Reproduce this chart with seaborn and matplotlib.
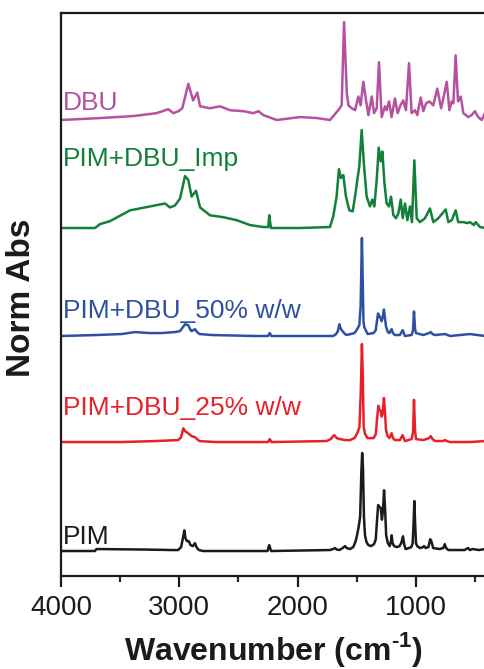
import matplotlib
matplotlib.use('Agg')
import matplotlib.pyplot as plt
import pandas as pd
import seaborn as sns
from matplotlib.ticker import MultipleLocator

# wavenumber (cm-1) and normalised absorbance
pim_wn = [4000, 3713, 3700, 3300, 3065, 3010, 2985, 2965, 2958, 2948, 2935, 2920, 2905, 2885,
	2868, 2855, 2835, 2800, 2403, 2255, 2240, 2225, 1727, 1700, 1685, 1670, 1648, 1620, 1600,
	1585, 1558, 1530, 1510, 1495, 1484, 1472, 1462, 1455, 1448, 1440, 1431, 1418, 1402, 1380,
	1355, 1340, 1330, 1320, 1310, 1298, 1288, 1280, 1270, 1262, 1252, 1238, 1222, 1212, 1206,
	1198, 1185, 1160, 1140, 1125, 1110, 1100, 1088, 1060, 1040, 1028, 1020, 1014, 1008, 1000,
	990, 966, 940, 932, 918, 895, 880, 870, 855, 800, 770, 757, 745, 727, 656, 590, 560, 545,
	520, 470, 417]
pim_abs = [0, 0, .02, .015, .01, .01, .04, .16, .21, .13, .10, .10, .06, .05,
	.08, .04, .01, 0, 0, 0, .06, 0, .01, .02, .03, .015, .01, .03, .05,
	.03, .02, .04, .10, .18, .25, .35, .80, 1.0, .85, .35, .16, .09, .06, .05,
	.07, .12, .30, .47, .45, .44, .32, .40, .62, .45, .16, .08, .05, .10, .16,
	.08, .05, .04, .05, .08, .15, .07, .02, .03, .04, .08, .30, .51, .30, .08,
	.05, .03, .04, .05, .03, .04, .12, .10, .03, .02, .03, .07, .03, .01, .01, .01, .03, .01,
	.02, .01, .02]

pim25_wn = [4000, 3700, 3487, 3206, 3009, 2985, 2966, 2950, 2938, 2915, 2896, 2868, 2850, 2830,
	2699, 2360, 2250, 2236, 2222, 1755, 1720, 1700, 1690, 1670, 1642, 1600, 1558, 1520, 1505,
	1490, 1478, 1467, 1457, 1450, 1442, 1430, 1409, 1358, 1340, 1328, 1318, 1308, 1299, 1290,
	1280, 1271, 1262, 1254, 1240, 1225, 1206, 1195, 1178, 1136, 1113, 1100, 1094, 1037, 1025,
	1017, 1008, 1000, 938, 890, 876, 860, 839, 770, 755, 740, 713, 544, 417]
pim25_abs = [0, 0, 0, .01, .02, .05, .14, .11, .10, .08, .06, .05, .03, .01,
	0, 0, 0, .03, 0, .01, .03, .06, .07, .04, .03, .02, .02, .04, .07,
	.11, .15, .50, 1.0, .70, .15, .08, .04, .04, .08, .25, .37, .33, .32, .26,
	.30, .45, .30, .13, .06, .04, .09, .04, .02, .02, .07, .03, .01, .03, .10,
	.43, .12, .03, .02, .04, .06, .03, .01, .01, .02, .01, 0, 0, .01]

pim50_wn = [4000, 3700, 3487, 3375, 3250, 3150, 3037, 2994, 2970, 2952, 2924, 2905, 2896, 2868,
	2850, 2830, 2727, 2360, 2250, 2236, 2222, 1699, 1675, 1660, 1648, 1638, 1628, 1600, 1586,
	1520, 1502, 1479, 1468, 1457, 1450, 1444, 1437, 1409, 1358, 1340, 1330, 1321, 1308, 1299,
	1290, 1280, 1271, 1262, 1254, 1238, 1225, 1206, 1195, 1178, 1136, 1113, 1100, 1094, 1037,
	1025, 1017, 1008, 1000, 938, 890, 876, 860, 839, 755, 713, 544, 417]
pim50_abs = [0, .01, .02, .04, .03, .03, .04, .05, .09, .12, .11, .06, .05, .07,
	.04, .02, .01, 0, 0, .03, 0, 0, .02, .05, .12, .08, .06, .02, .01,
	.03, .06, .11, .30, 1.0, .55, .15, .09, .02, .03, .06, .15, .23, .20, .18,
	.15, .20, .27, .18, .10, .04, .03, .07, .03, .01, .01, .06, .02, 0, .01,
	.06, .25, .07, .03, .01, .03, .04, .02, .01, .02, 0, .02, 0]

imp_wn = [4000, 3713, 3670, 3586, 3417, 3248, 3121, 3079, 3037, 2994, 2952, 2924, 2896, 2859,
	2825, 2741, 2628, 2515, 2403, 2290, 2248, 2240, 2226, 1980, 1727, 1699, 1671, 1651, 1634,
	1614, 1592, 1563, 1535, 1515, 1496, 1479, 1459, 1439, 1417, 1389, 1369, 1352, 1332, 1315,
	1298, 1284, 1267, 1248, 1228, 1211, 1191, 1169, 1149, 1129, 1112, 1093, 1073, 1051, 1034,
	1014, 994, 966, 924, 882, 854, 811, 749, 727, 698, 665, 643, 600, 566, 544, 510, 496, 459,
	417]
imp_abs = [0, 0, .04, .07, .18, .22, .25, .21, .23, .30, .53, .49, .32, .38,
	.21, .13, .11, .08, .03, .01, .01, .13, 0, 0, .01, .12, .32, .60, .51,
	.54, .32, .18, .17, .32, .49, .63, 1.0, .63, .32, .22, .29, .22, .49, .82,
	.68, .78, .46, .25, .22, .32, .13, .10, .15, .29, .10, .25, .08, .22, .06,
	.69, .10, .06, .10, .20, .06, .10, .19, .06, .08, .18, .06, .06, .05, .06, .03, .06, .01,
	0]

dbu_wn = [4000, 3670, 3392, 3192, 3093, 3050, 3008, 2975, 2924, 2884, 2848, 2825, 2741, 2656,
	2572, 2459, 2375, 2332, 2290, 2177, 1980, 1839, 1727, 1657, 1628, 1608, 1585, 1571, 1543,
	1515, 1487, 1468, 1445, 1425, 1402, 1374, 1355, 1332, 1313, 1290, 1262, 1248, 1228, 1206,
	1178, 1155, 1131, 1108, 1085, 1059, 1037, 1009, 989, 960, 938, 915, 887, 854, 820, 788,
	769, 740, 718, 698, 684, 665, 645, 622, 600, 558, 530, 502, 474, 445, 417]
dbu_abs = [0, .02, .04, .07, .11, .07, .09, .12, .37, .20, .28, .14, .12, .14,
	.10, .09, .07, .09, .05, 0, .03, .02, 0, .10, .15, 1.0, .28, .15, .12,
	.10, .24, .15, .39, .22, .05, .24, .07, .12, .59, .03, .14, .10, .19, .03,
	.22, .07, .15, .20, .10, .58, .07, .10, .05, .23, .09, .17, .19, .15, .32, .12,
	.22, .39, .10, .19, .17, .66, .19, .24, .07, .03, .05, .09, .03, 0, .07]

labels = ['PIM', 'PIM+DBU_25% w/w', 'PIM+DBU_50% w/w', 'PIM+DBU_Imp', 'DBU']
series_wn = [pim_wn, pim25_wn, pim50_wn, imp_wn, dbu_wn]
series_abs = [pim_abs, pim25_abs, pim50_abs, imp_abs, dbu_abs]

# stacking and styling
offsets = [0.0, 1.112, 2.194, 3.296, 4.398]
label_y = [0.071, 1.388, 2.378, 3.93, 4.50]
colors = ['#1c1a1a', '#e8202a', '#2f50a2', '#138039', '#b6519f']

frames = []
for name, wn, ab, off in zip(labels, series_wn, series_abs, offsets):
	frames.append(pd.DataFrame({'wn': wn, 'y': [a + off for a in ab], 'sample': name}))
df = pd.concat(frames, ignore_index=True)

sns.set_style('ticks')
plt.rcParams['font.family'] = ['Liberation Sans', 'DejaVu Sans']
plt.rcParams['mathtext.fontset'] = 'custom'
plt.rcParams['mathtext.rm'] = 'Liberation Sans:bold'
plt.rcParams['mathtext.bf'] = 'Liberation Sans:bold'

fig = plt.figure(figsize=(4.85, 6.69), dpi=100)
ax = fig.add_axes([61 / 485, 1 - 576 / 669, 426 / 485, 563 / 669])

sns.lineplot(data=df, x='wn', y='y', hue='sample', palette=dict(zip(labels, colors)),
	estimator=None, sort=False, linewidth=1.8, legend=False, ax=ax)

for name, y, c in zip(labels, label_y, colors):
	ax.text(3983, y, name, color=c, fontsize=19, ha='left', va='baseline')

ax.set_xlim(4000, 400)
ax.set_ylim(-0.255, 5.49)
ax.set_yticks([])
ax.xaxis.set_major_locator(MultipleLocator(1000))
ax.xaxis.set_minor_locator(MultipleLocator(500))
ax.tick_params(axis='x', which='major', direction='out', length=8, width=1.6, labelsize=20,
	pad=6, colors='#1c1a1a')
ax.tick_params(axis='x', which='minor', direction='out', length=4.5, width=1.6)
ax.set_xlabel('')
ax.set_ylabel('')
for side in ['left', 'top', 'bottom']:
	ax.spines[side].set_linewidth(1.6)
	ax.spines[side].set_color('#1c1a1a')
ax.spines['right'].set_visible(False)

fig.text(273 / 485, 1 - 660 / 669, r'Wavenumber (cm$^{\text{-1}}$)', fontsize=23,
	fontweight='bold', ha='center', va='baseline', color='#1c1a1a')
fig.text(22 / 485, 1 - 298 / 669, 'Norm Abs', fontsize=24, fontweight='bold',
	rotation=90, ha='center', va='center', color='#1c1a1a')

plt.savefig('out.png', dpi=100)
